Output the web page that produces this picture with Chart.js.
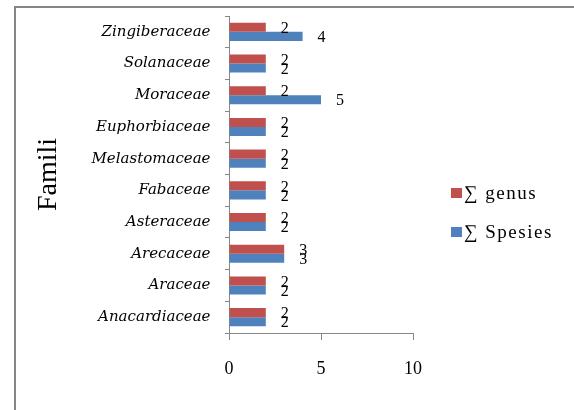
<!DOCTYPE html>
<html>
<head>
<meta charset="utf-8">
<script src="https://cdn.jsdelivr.net/npm/chart.js@4/dist/chart.umd.min.js"></script>
<style>
  html, body { margin: 0; padding: 0; background: #fff; }
  #wrap { position: relative; width: 574px; height: 410px; }
</style>
</head>
<body>
<div id="wrap"><canvas id="c" width="574" height="410"></canvas></div>
<script>
// Plant families (top to bottom) and their counts
const families = ['Zingiberaceae', 'Solanaceae', 'Moraceae', 'Euphorbiaceae', 'Melastomaceae',
                  'Fabaceae', 'Asteraceae', 'Arecaceae', 'Araceae', 'Anacardiaceae'];
const genusCounts   = [2, 2, 2, 2, 2, 2, 2, 3, 2, 2];
const speciesCounts = [4, 2, 5, 2, 2, 2, 2, 3, 2, 2];
const xTicks = [0, 5, 10];
const seriesNames = ['\u2211 genus', '\u2211 Spesies'];
const seriesColors = ['#C0504D', '#4F81BD'];

const AXIS_GREY = '#868686';

// Frame lines along the top and left edges
const framePlugin = {
  id: 'frame',
  beforeDraw(chart) {
    const ctx = chart.ctx;
    ctx.save();
    ctx.fillStyle = '#858585';
    ctx.fillRect(14, 6, 560, 2);
    ctx.fillRect(14, 6, 2, 404);
    ctx.restore();
  }
};

// Value labels just past the end of each bar
const valueLabelPlugin = {
  id: 'valueLabels',
  afterDatasetsDraw(chart) {
    const ctx = chart.ctx;
    ctx.save();
    ctx.font = '16px "Liberation Serif", "Times New Roman", serif';
    ctx.fillStyle = '#000';
    ctx.textAlign = 'center';
    ctx.textBaseline = 'middle';
    chart.data.datasets.forEach((ds, di) => {
      const meta = chart.getDatasetMeta(di);
      meta.data.forEach((bar, i) => {
        ctx.fillText(String(ds.data[i]), bar.x + 19, bar.y + 1.5);
      });
    });
    ctx.restore();
  }
};

// Legend on the right side
const legendPlugin = {
  id: 'sideLegend',
  afterDraw(chart) {
    const ctx = chart.ctx;
    ctx.save();
    ctx.font = '19px "Liberation Serif", "Times New Roman", serif';
    ctx.letterSpacing = '1.5px';
    ctx.textBaseline = 'middle';
    ctx.textAlign = 'left';
    const rows = [193, 232];
    chart.data.datasets.forEach((ds, di) => {
      const y = rows[di];
      ctx.fillStyle = ds.backgroundColor;
      ctx.fillRect(451, y - 5, 11, 10);
      ctx.fillStyle = '#000';
      ctx.fillText(ds.label, 464, y + 1);
    });
    ctx.restore();
  }
};

new Chart(document.getElementById('c'), {
  type: 'bar',
  data: {
    labels: families,
    datasets: [
      { label: seriesNames[0], data: genusCounts, backgroundColor: seriesColors[0] },
      { label: seriesNames[1], data: speciesCounts, backgroundColor: seriesColors[1] }
    ]
  },
  options: {
    indexAxis: 'y',
    responsive: false,
    animation: false,
    barPercentage: 1,
    categoryPercentage: 0.57,
    layout: { padding: { left: 14, top: 16, right: 161, bottom: 0 } },
    plugins: {
      legend: { display: false },
      tooltip: { enabled: false }
    },
    scales: {
      x: {
        min: 0,
        max: 10,
        afterBuildTicks(scale) { scale.ticks = xTicks.map(v => ({ value: v })); },
        afterFit(scale) { scale.height = 77; },
        grid: { drawOnChartArea: false, drawTicks: true, tickLength: 7, color: AXIS_GREY },
        border: { display: true, color: AXIS_GREY },
        ticks: {
          padding: 18,
          color: '#000',
          font: { family: '"Liberation Serif", "Times New Roman", serif', size: 18 }
        }
      },
      y: {
        afterFit(scale) {
          scale.width = 215;
          scale.paddingTop = 0;
          scale.paddingBottom = 0;
        },
        grid: { drawOnChartArea: false, drawTicks: true, tickLength: 4, offset: true, color: AXIS_GREY },
        border: { display: true, color: AXIS_GREY },
        ticks: {
          padding: 14.5,
          color: '#000',
          font: { family: '"DejaVu Serif", serif', size: 15, style: 'italic' }
        },
        title: {
          display: true,
          text: 'Famili',
          color: '#000',
          padding: { top: 18, bottom: 0 },
          font: { family: '"Liberation Serif", "Times New Roman", serif', size: 28 }
        }
      }
    }
  },
  plugins: [framePlugin, valueLabelPlugin, legendPlugin]
});
</script>
</body>
</html>
